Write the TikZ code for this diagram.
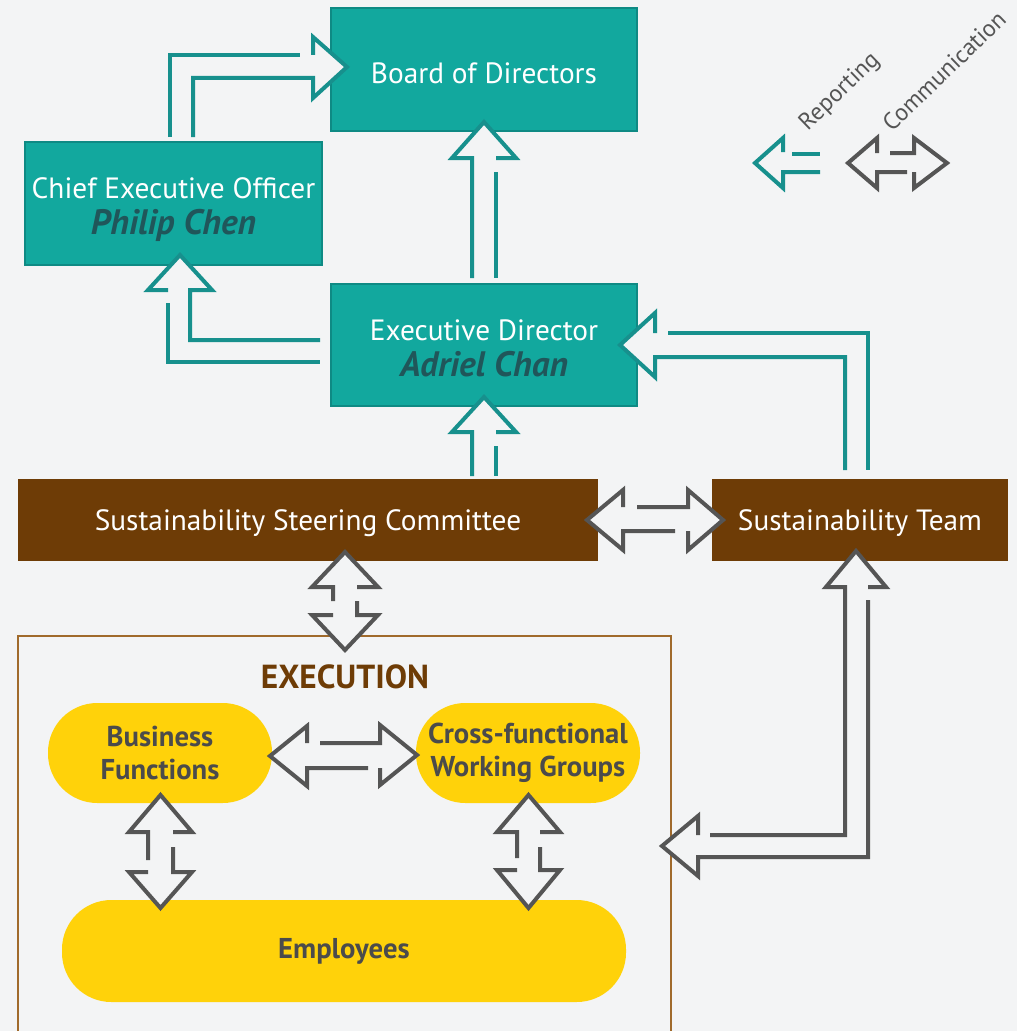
\documentclass[tikz,border=0pt]{standalone}
\usepackage{fontspec}
\setmainfont{PT Sans}
\usetikzlibrary{calc}
\definecolor{bg}{HTML}{F3F4F5}
\definecolor{tealfill}{HTML}{12A89E}
\definecolor{tealedge}{HTML}{0E8A84}
\definecolor{tealarr}{HTML}{17908D}
\definecolor{brn}{HTML}{6E3C06}
\definecolor{frm}{HTML}{A06A2C}
\definecolor{ylw}{HTML}{FFD20A}
\definecolor{dk}{HTML}{4B4B4B}
\definecolor{grayarr}{HTML}{555555}
\definecolor{nm}{HTML}{20565A}
\newcommand\pxl[1]{#1*0.75pt}
\newcommand\headfill[3]{\fill[bg] #1 -- #2 -- #3 -- cycle;}
\newcommand\lineone[1]{\rule[-6pt]{0pt}{32pt}#1}
\newcommand\pname[1]{\rule[-6pt]{0pt}{21pt}{\fontsize{26.5}{27}\selectfont\color{nm}\bfseries\itshape #1}}
\begin{document}
\begin{tikzpicture}[x=0.75pt,y=-0.75pt,
  tbox/.style={draw=tealedge, line width=1.5pt, fill=tealfill, text=white, inner sep=0pt, align=center,
    font=\fontsize{22}{27}\selectfont},
  bbox/.style={fill=brn, text=white, inner sep=0pt, text height=17pt, text depth=2pt,
    font=\fontsize{22}{25}\selectfont},
  pill/.style={fill=ylw, rounded corners=37pt, text=dk, inner sep=0pt, align=center,
    font=\fontsize{21.5}{25}\selectfont\bfseries},
  tarr/.style={draw=tealarr, line width=3pt},
  garr/.style={draw=grayarr, line width=3pt},
  legtext/.style={text=grayarr, rotate=44, font=\fontsize{18}{20}\selectfont},
]
\fill[bg] (0,0) rectangle (1017,1031);
\useasboundingbox (0,0) rectangle (1017,1031);

% execution frame
\draw[frm, line width=1.2pt] (18,1031) -- (18,636) -- (671,636) -- (671,1031);
\node[text=brn, font=\fontsize{25}{28}\selectfont\bfseries] (exec) at (345,677) {EXECUTION};

% boxes
\node[tbox, minimum width=\pxl{306}, minimum height=\pxl{123}, text height=21pt, text depth=0pt] (board) at (484,69.5) {Board of Directors};
\node[tbox, minimum width=\pxl{297}, minimum height=\pxl{123}] (ceo) at (173.5,203.5)
  {\lineone{Chief Executive Officer}\\\pname{Philip Chen}};
\node[tbox, minimum width=\pxl{306}, minimum height=\pxl{122}] (ed) at (484,345)
  {\lineone{Executive Director}\\\pname{Adriel Chan}};
\node[bbox, minimum width=\pxl{580}, minimum height=\pxl{82}] (ssc) at (308,520) {Sustainability Steering Committee};
\node[bbox, minimum width=\pxl{296}, minimum height=\pxl{82}] (st) at (860,520) {Sustainability Team};
\node[pill, minimum width=\pxl{224}, minimum height=\pxl{100}] (bf) at (160,753) {Business\\Functions};
\node[pill, minimum width=\pxl{224}, minimum height=\pxl{100}] (cf) at (528,753) {Cross-functional\\Working Groups};
\node[pill, minimum width=\pxl{564}, minimum height=\pxl{102}] (emp) at (344,951) {Employees};

% ---- teal reporting arrows ----
% CEO -> Board
\headfill{(347,67)}{(313,37)}{(313,98)}
\draw[tarr] (170,137) -- (170,55) -- (300,55);
\draw[tarr] (193,137) -- (193,78) -- (313,78) -- (313,98) -- (347,67) -- (313,37) -- (313,55);
% ED -> Board
\headfill{(484,122)}{(452,158)}{(516,158)}
\draw[tarr] (472,278) -- (472,158) -- (452,158) -- (484,122) -- (516,158) -- (496,158);
\draw[tarr] (496,172) -- (496,278);
% ED -> CEO
\headfill{(180,255)}{(148,290)}{(212,290)}
\draw[tarr] (320,340) -- (190,340) -- (190,290) -- (212,290) -- (180,255) -- (148,290) -- (168,290);
\draw[tarr] (168,303) -- (168,362) -- (320,362);
% SSC -> ED
\headfill{(484,397)}{(452,432)}{(516,432)}
\draw[tarr] (472,476) -- (472,432) -- (452,432) -- (484,397) -- (516,432) -- (496,432);
\draw[tarr] (496,446) -- (496,476);
% ST -> ED
\headfill{(620,345)}{(655,313)}{(655,377)}
\draw[tarr] (845,470) -- (845,357) -- (655,357) -- (655,377) -- (620,345) -- (655,313) -- (655,333);
\draw[tarr] (668,333) -- (868,333) -- (868,470);

% ---- gray communication arrows ----
% SSC <-> ST
\headfill{(587,520)}{(623,490)}{(623,550)}
\headfill{(723,520)}{(688,490)}{(688,550)}
\draw[garr] (623,507) -- (623,490) -- (587,520) -- (623,550) -- (623,531) -- (675,531);
\draw[garr] (637,507) -- (688,507) -- (688,490) -- (723,520) -- (688,550) -- (688,531);
% SSC <-> Execution
\headfill{(345,552)}{(312,587)}{(378,587)}
\headfill{(345,650)}{(312,615)}{(378,615)}
\draw[garr] (333,601) -- (333,587) -- (312,587) -- (345,552) -- (378,587) -- (357,587);
\draw[garr] (357,601) -- (357,615) -- (378,615) -- (345,650) -- (312,615) -- (333,615);
% ST <-> Execution
\headfill{(856,551)}{(826,587)}{(886,587)}
\headfill{(662,846)}{(698,816)}{(698,876)}
\draw[garr] (710,835) -- (845,835) -- (845,587) -- (826,587) -- (856,551) -- (886,587) -- (868,587);
\draw[garr] (868,600) -- (868,857) -- (698,857) -- (698,876) -- (662,846) -- (698,816) -- (698,835);
% BF <-> CF
\headfill{(270,756)}{(307,726)}{(307,786)}
\headfill{(417,755)}{(380,725)}{(380,785)}
\draw[garr] (307,743) -- (307,726) -- (270,756) -- (307,786) -- (307,768) -- (368,768);
\draw[garr] (320,743) -- (380,743) -- (380,725) -- (417,755) -- (380,785) -- (380,768);
% BF <-> Employees
\headfill{(160.5,795)}{(129,832)}{(192,832)}
\headfill{(160.5,908)}{(129,872)}{(192,872)}
\draw[garr] (148,860) -- (148,832) -- (129,832) -- (160.5,795) -- (192,832) -- (173,832);
\draw[garr] (173,847) -- (173,872) -- (192,872) -- (160.5,908) -- (129,872) -- (148,872);
% CF <-> Employees
\headfill{(528.5,795)}{(497,832)}{(560,832)}
\headfill{(528.5,908)}{(497,870)}{(560,870)}
\draw[garr] (517,858) -- (517,832) -- (497,832) -- (528.5,795) -- (560,832) -- (540,832);
\draw[garr] (540,847) -- (540,870) -- (560,870) -- (528.5,908) -- (497,870) -- (517,870);

% ---- legend ----
\draw[tarr] (792,154) -- (820,154);
\draw[tarr] (820,172) -- (783,172) -- (783,188) -- (755,163) -- (783,138) -- (783,152);
\draw[garr] (877,153) -- (877,138) -- (848,163) -- (877,188) -- (877,172) -- (907,172);
\draw[garr] (890,153) -- (914,153) -- (914,138) -- (947,163) -- (914,188) -- (914,172);
\node[legtext] (rep) at (840,92) {Reporting};
\node[legtext] (com) at (944,71) {Communication};
\end{tikzpicture}
\end{document}
